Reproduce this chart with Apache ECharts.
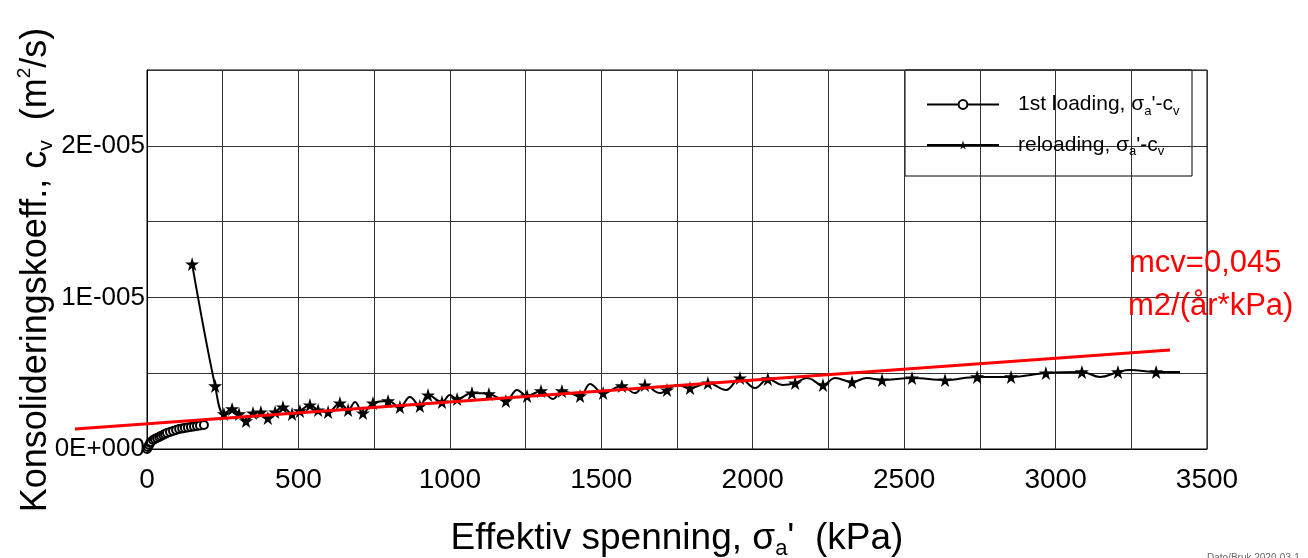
<!DOCTYPE html>
<html><head><meta charset="utf-8">
<script src="https://cdn.jsdelivr.net/npm/echarts@6/dist/echarts.min.js"></script>
<style>html,body{margin:0;padding:0;background:#fff}#c{width:1308px;height:558px}</style>
</head><body><div id="c"></div>
<script>
// Effective stress (kPa) and cv in units of 1E-005 m2/s
const firstX = [0,3,7,10,13,20,26,33,40,46,53,59,66,76,86,96,106,116,125,135,145,155,165,175,188];
const firstY = [0,0.013,0.026,0.040,0.046,0.059,0.066,0.073,0.079,0.086,0.092,0.099,0.106,0.112,0.119,0.125,0.132,0.135,0.139,0.142,0.145,0.148,0.152,0.155,0.158];

const reloadX = [149,225,254,281,304,327,350,376,399,423,449,479,505,538,565,598,637,664,687,713,746,796,835,868,901,928,974,1000,1024,1073,1129,1185,1222,1255,1301,1341,1370,1430,1463,1506,1568,1611,1644,1694,1717,1750,1793,1852,1912,1958,2008,2050,2100,2140,2179,2232,2272,2328,2377,2427,2526,2635,2741,2853,2968,3087,3147,3206,3246,3332,3411];
const reloadY = [1.220,0.416,0.231,0.264,0.231,0.185,0.237,0.244,0.204,0.244,0.277,0.231,0.251,0.290,0.257,0.244,0.303,0.257,0.310,0.237,0.303,0.317,0.277,0.343,0.284,0.356,0.310,0.356,0.330,0.369,0.363,0.317,0.389,0.350,0.383,0.330,0.383,0.350,0.429,0.369,0.416,0.369,0.422,0.369,0.389,0.422,0.402,0.435,0.389,0.468,0.402,0.462,0.422,0.435,0.468,0.422,0.468,0.442,0.468,0.455,0.468,0.455,0.475,0.475,0.501,0.508,0.475,0.508,0.521,0.508,0.508];
const reloadStar = [1,1,1,1,1,1,1,1,1,1,1,1,1,1,1,1,1,1,0,1,1,1,1,0,1,1,1,0,1,1,1,1,0,1,1,0,1,1,0,1,1,0,1,0,1,0,1,1,0,1,0,1,0,1,0,1,0,1,0,1,1,1,1,1,1,1,0,1,0,1,0];

const fitX = [-238, 3378];
const fitY = [0.132, 0.653];

const xTicks = [0,500,1000,1500,2000,2500,3000,3500];
const yTicks = [0,1,2];
const yTickLabels = ['0E+000','1E-005','2E-005'];

const STAR = 'path://M50,0 L61,35 L98,35 L68,57 L79,91 L50,70 L21,91 L32,57 L2,35 L39,35 Z';
const FONT = '"Liberation Sans", Arial, sans-serif';

const chart = echarts.init(document.getElementById('c'));

chart.setOption({
  animation: false,
  textStyle: {fontFamily: FONT, color: '#000'},
  grid: {left: 147, right: 101, top: 70, bottom: 109, show: true, borderColor: '#000', borderWidth: 1, backgroundColor: 'transparent', containLabel: false, outerBoundsMode: 'none'},
  xAxis: {
    type: 'value', min: 0, max: 3500, interval: 250,
    axisLine: {show: true, lineStyle: {color: '#000', width: 1}},
    axisTick: {show: false},
    splitLine: {show: true, lineStyle: {color: '#333', width: 1}},
    axisLabel: {fontSize: 28, color: '#000', margin: 17, fontFamily: FONT,
      formatter: v => xTicks.indexOf(v) >= 0 ? String(v) : ''},
    name: '{t|Effektiv spenning, σ}{s|a}{t|\'  (kPa)}',
    nameLocation: 'middle', nameGap: 69, nameMoveOverlap: false,
    nameTextStyle: {rich: {t: {fontSize: 37, fontFamily: FONT, color:'#000', lineHeight: 42}, s: {fontSize: 22, fontFamily: FONT, color:'#000', verticalAlign:'bottom', lineHeight: 42}}}
  },
  yAxis: {
    type: 'value', min: 0, max: 2.5, interval: 0.5,
    axisLine: {show: true, lineStyle: {color: '#000', width: 1}},
    axisTick: {show: false},
    splitLine: {show: true, lineStyle: {color: '#333', width: 1}},
    axisLabel: {fontSize: 26, color: '#000', margin: 2, fontFamily: FONT,
      formatter: v => { const i = yTicks.indexOf(v); return i >= 0 ? yTickLabels[i] : ''; }},
    name: '{t|Konsolideringskoeff., c}{s|v}{t|  (m}{p|2}{t|/s)}',
    nameLocation: 'middle', nameGap: 90, nameMoveOverlap: false,
    nameTextStyle: {padding: [0, 21, 0, 0], rich: {
      t: {fontSize: 36, fontFamily: FONT, color:'#000', lineHeight: 42},
      s: {fontSize: 21, fontFamily: FONT, color:'#000', verticalAlign:'bottom', lineHeight: 42},
      p: {fontSize: 19, fontFamily: FONT, color:'#000', verticalAlign:'top', lineHeight: 42}
    }}
  },
  legend: {
    show: true, orient: 'vertical', left: 921, top: 89,
    itemWidth: 72, itemHeight: 11, itemGap: 17,
    data: ['first', 'reload'],
    formatter: n => n === 'first'
      ? '{t|1st loading, σ}{s|a}{t|\'-c}{s|v}'
      : '{t|reloading, σ}{s|a}{t|\'-c}{s|v}',
    textStyle: {padding: [0,0,0,14], rich: {
      t: {fontSize: 21, fontFamily: FONT, color:'#000', lineHeight: 26},
      s: {fontSize: 13, fontFamily: FONT, color:'#000', verticalAlign:'bottom', lineHeight: 26}
    }}
  },
  graphic: [
    {type: 'rect', shape: {x: 905, y: 70, width: 287, height: 106}, style: {fill: '#fff', stroke: '#000', lineWidth: 1}, z: 0, zlevel: 0},
    {type: 'text', x: 1129, y: 248, style: {text: 'mcv=0,045', fill: '#ff0000', fontSize: 31, fontFamily: FONT}, z: 10},
    {type: 'text', x: 1128, y: 291, style: {text: 'm2/(år*kPa)', fill: '#ff0000', fontSize: 31, fontFamily: FONT}, z: 10},
    {type: 'text', x: 1207, y: 553, style: {text: 'Dato/Bruk 2020-03-1', fill: '#666', fontSize: 10, fontFamily: FONT}, z: 10}
  ],
  series: [
    {
      name: 'first', type: 'line', z: 3,
      data: firstX.map((x, i) => [x, firstY[i]]),
      symbol: 'emptyCircle', symbolSize: 8, showSymbol: true,
      lineStyle: {color: '#000', width: 1.5},
      itemStyle: {color: '#000', borderColor: '#000', borderWidth: 1.2}
    },
    {
      name: 'reload', type: 'line', z: 3, smooth: 0.4,
      data: reloadX.map((x, i) => ({value: [x, reloadY[i]], symbol: reloadStar[i] ? STAR : 'none'})),
      symbol: STAR, symbolSize: 14, showSymbol: true,
      lineStyle: {color: '#000', width: 2},
      itemStyle: {color: '#000'}
    },
    {
      name: 'fit', type: 'custom', z: 4, clip: false, silent: true,
      data: [[fitX[0], fitY[0], fitX[1], fitY[1]]],
      encode: {x: [0, 2], y: [1, 3]},
      renderItem: (params, api) => {
        const p1 = api.coord([api.value(0), api.value(1)]);
        const p2 = api.coord([api.value(2), api.value(3)]);
        return {type: 'line', shape: {x1: p1[0], y1: p1[1], x2: p2[0], y2: p2[1]},
                style: {stroke: '#ff0000', lineWidth: 3}};
      }
    }
  ]
});
</script></body></html>
